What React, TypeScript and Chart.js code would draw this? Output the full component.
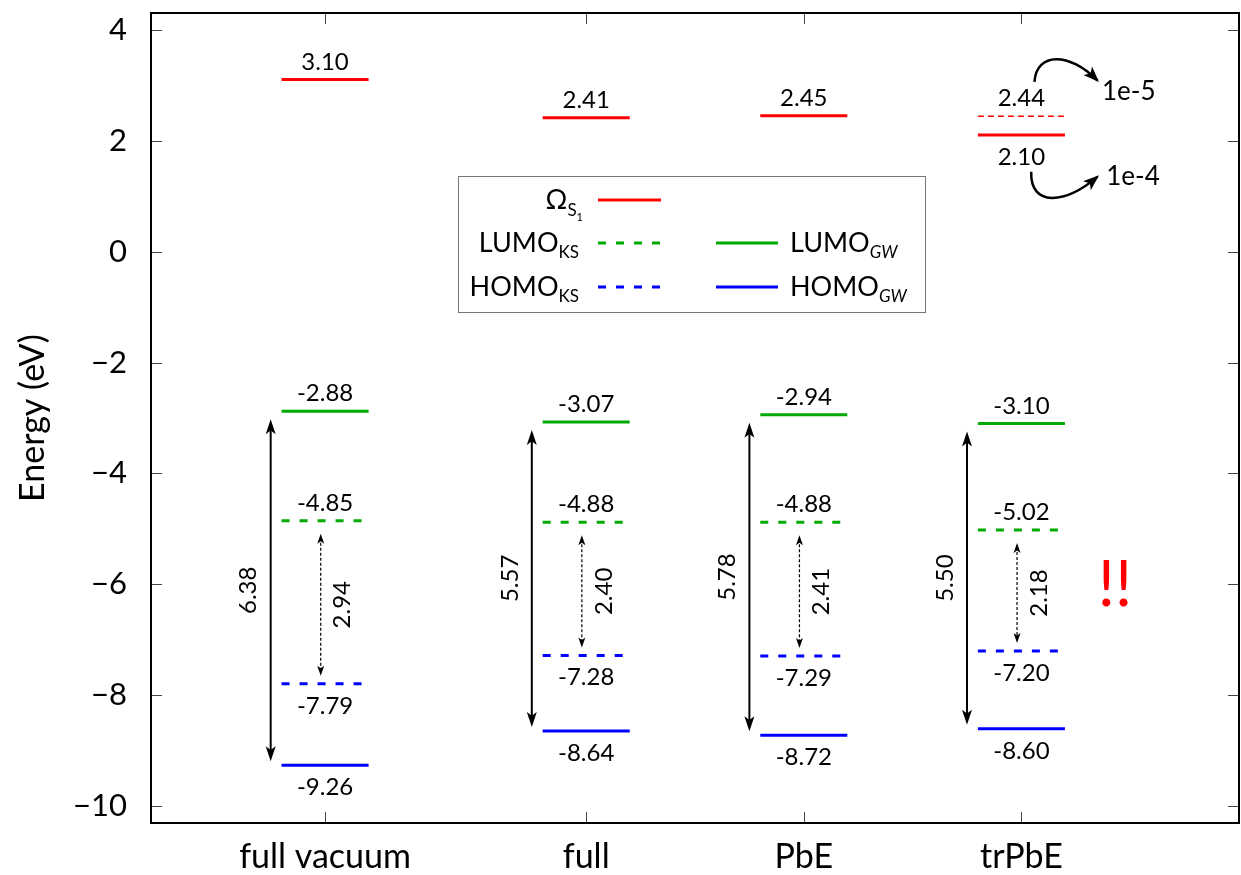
import { useEffect, useRef } from "react";
import { Chart, registerables } from "chart.js";

Chart.register(...registerables);

// ---------- data ----------
const categories = ["full vacuum", "full", "PbE", "trPbE"];
const categoryX = [0.8, 2, 3, 4];
const omegaS1 = [3.1, 2.41, 2.45, 2.1];
const omegaS1Pos = ["above", "above", "above", "below"];
const omegaS1Alt = [null, null, null, 2.44];
const lumoGW = [-2.88, -3.07, -2.94, -3.1];
const lumoKS = [-4.85, -4.88, -4.88, -5.02];
const homoKS = [-7.79, -7.28, -7.29, -7.2];
const homoGW = [-9.26, -8.64, -8.72, -8.6];
const gapGW = [6.38, 5.57, 5.78, 5.5];
const gapKS = [2.94, 2.4, 2.41, 2.18];
const yTicks = [4, 2, 0, -2, -4, -6, -8, -10];
const oscLabels = ["1e-5", "1e-4"];

// ---------- styles ----------
const RED = "#ff0000";
const GREEN = "#00aa00";
const BLUE = "#0000ff";
const FONT = "Lato, 'Open Sans', sans-serif";
const HALF = 0.2;

type Level = {
  values: (number | null)[];
  color: string;
  dash: number[];
  width: number;
  pos: string[];
};

const levels: Level[] = [
  { values: omegaS1, color: RED, dash: [], width: 3, pos: omegaS1Pos },
  { values: omegaS1Alt, color: RED, dash: [6, 4], width: 1.5, pos: ["above", "above", "above", "above"] },
  { values: lumoGW, color: GREEN, dash: [], width: 3, pos: ["above", "above", "above", "above"] },
  { values: lumoKS, color: GREEN, dash: [8, 10], width: 3, pos: ["above", "above", "above", "above"] },
  { values: homoKS, color: BLUE, dash: [8, 10], width: 3, pos: ["below", "below", "below", "below"] },
  { values: homoGW, color: BLUE, dash: [], width: 3, pos: ["below", "below", "below", "below"] },
];

function buildDatasets() {
  const ds: any[] = [];
  levels.forEach((lv) => {
    lv.values.forEach((v, i) => {
      if (v === null) return;
      ds.push({
        type: "line",
        data: [
          { x: categoryX[i] - HALF, y: v },
          { x: categoryX[i] + HALF, y: v },
        ],
        borderColor: lv.color,
        borderWidth: lv.width,
        borderDash: lv.dash,
        borderCapStyle: "butt",
        pointRadius: 0,
        fill: false,
      });
    });
  });
  return ds;
}

function arrowHead(ctx: CanvasRenderingContext2D, tx: number, ty: number, ang: number, len: number, hw: number) {
  ctx.save();
  ctx.translate(tx, ty);
  ctx.rotate(ang);
  ctx.beginPath();
  ctx.moveTo(0, 0);
  ctx.lineTo(-len, -hw);
  ctx.lineTo(-len * 0.75, 0);
  ctx.lineTo(-len, hw);
  ctx.closePath();
  ctx.fill();
  ctx.restore();
}

type Part = { t: string; size: number; dy: number; italic?: boolean };

function drawParts(ctx: CanvasRenderingContext2D, parts: Part[], x: number, y: number, align: "left" | "right") {
  let total = 0;
  const ws = parts.map((p) => {
    ctx.font = `${p.italic ? "italic " : ""}${p.size}px ${FONT}`;
    const w = ctx.measureText(p.t).width;
    total += w;
    return w;
  });
  let cx = align === "left" ? x : x - total;
  ctx.textAlign = "left";
  ctx.textBaseline = "alphabetic";
  parts.forEach((p, i) => {
    ctx.font = `${p.italic ? "italic " : ""}${p.size}px ${FONT}`;
    ctx.fillText(p.t, cx, y + p.dy);
    cx += ws[i];
  });
}

const annotate = {
  id: "annotate",
  afterDatasetsDraw(chart: any) {
    const { ctx, chartArea: ca, scales } = chart;
    const xs = scales.x;
    const ys = scales.y;
    ctx.save();
    ctx.fillStyle = "#000";
    ctx.strokeStyle = "#000";

    // value labels
    ctx.font = `24px ${FONT}`;
    ctx.textAlign = "center";
    ctx.textBaseline = "alphabetic";
    levels.forEach((lv) => {
      lv.values.forEach((v, i) => {
        if (v === null) return;
        const px = xs.getPixelForValue(categoryX[i]);
        const py = ys.getPixelForValue(v);
        const ty = lv.pos[i] === "above" ? py - 10 : py + 30;
        ctx.fillText(v.toFixed(2), px, ty);
      });
    });

    // gap arrows
    categoryX.forEach((cxv, i) => {
      // GW gap
      const ax = xs.getPixelForValue(cxv - 0.25);
      const y1 = ys.getPixelForValue(lumoGW[i]) + 8;
      const y2 = ys.getPixelForValue(homoGW[i]) - 4;
      ctx.setLineDash([]);
      ctx.lineWidth = 2;
      ctx.beginPath();
      ctx.moveTo(ax, y1 + 6);
      ctx.lineTo(ax, y2 - 6);
      ctx.stroke();
      arrowHead(ctx, ax, y1, -Math.PI / 2, 15, 5);
      arrowHead(ctx, ax, y2, Math.PI / 2, 15, 5);
      ctx.save();
      ctx.translate(ax - 22, (y1 + y2) / 2);
      ctx.rotate(-Math.PI / 2);
      ctx.font = `24px ${FONT}`;
      ctx.textAlign = "center";
      ctx.textBaseline = "middle";
      ctx.fillText(gapGW[i].toFixed(2), 0, 0);
      ctx.restore();

      // KS gap
      const bx = xs.getPixelForValue(cxv - 0.02);
      const k1 = ys.getPixelForValue(lumoKS[i]) + 13;
      const k2 = ys.getPixelForValue(homoKS[i]) - 8;
      ctx.lineWidth = 1.2;
      ctx.setLineDash([3, 2]);
      ctx.beginPath();
      ctx.moveTo(bx, k1 + 4);
      ctx.lineTo(bx, k2 - 4);
      ctx.stroke();
      ctx.setLineDash([]);
      arrowHead(ctx, bx, k1, -Math.PI / 2, 10, 3.5);
      arrowHead(ctx, bx, k2, Math.PI / 2, 10, 3.5);
      ctx.save();
      ctx.translate(bx + 22, (k1 + k2) / 2);
      ctx.rotate(-Math.PI / 2);
      ctx.font = `24px ${FONT}`;
      ctx.textAlign = "center";
      ctx.textBaseline = "middle";
      ctx.fillText(gapKS[i].toFixed(2), 0, 0);
      ctx.restore();
    });

    // curved arrows to oscillator strengths
    const P = (xv: number, yv: number) => [xs.getPixelForValue(xv), ys.getPixelForValue(yv)];
    const curves = [
      { p0: P(4.06, 3.06), c1: P(4.07, 3.6), c2: P(4.22, 3.6), p3: P(4.35, 3.08), text: oscLabels[0], tp: P(4.37, 2.88) },
      { p0: P(4.045, 1.44), c1: P(4.04, 0.8), c2: P(4.2, 0.85), p3: P(4.35, 1.35), text: oscLabels[1], tp: P(4.39, 1.35) },
    ];
    curves.forEach((c) => {
      ctx.lineWidth = 2.5;
      ctx.setLineDash([]);
      ctx.beginPath();
      ctx.moveTo(c.p0[0], c.p0[1]);
      ctx.bezierCurveTo(c.c1[0], c.c1[1], c.c2[0], c.c2[1], c.p3[0], c.p3[1]);
      ctx.stroke();
      const ang = Math.atan2(c.p3[1] - c.c2[1], c.p3[0] - c.c2[0]);
      arrowHead(ctx, c.p3[0] + Math.cos(ang) * 2, c.p3[1] + Math.sin(ang) * 2, ang, 16, 6);
      ctx.font = `26px ${FONT}`;
      ctx.textAlign = "left";
      ctx.textBaseline = "middle";
      ctx.fillText(c.text, c.tp[0], c.tp[1]);
    });

    // "!!"
    const ex = P(4.43, -6.02);
    ctx.fillStyle = RED;
    ctx.font = `64px ${FONT}`;
    ctx.textAlign = "center";
    ctx.textBaseline = "middle";
    ctx.fillText("!!", ex[0], ex[1]);

    // legend
    const lx = ca.left + 307;
    const ly = ca.top + 163;
    ctx.fillStyle = "#fff";
    ctx.fillRect(lx, ly, 467, 136);
    ctx.strokeStyle = "#777";
    ctx.lineWidth = 1;
    ctx.strokeRect(lx + 0.5, ly + 0.5, 467, 136);
    ctx.fillStyle = "#000";
    const rows = [ly + 24, ly + 67, ly + 111];
    const sample = (x1: number, x2: number, yy: number, color: string, dash: number[]) => {
      ctx.strokeStyle = color;
      ctx.lineWidth = 3;
      ctx.setLineDash(dash);
      ctx.beginPath();
      ctx.moveTo(x1, yy);
      ctx.lineTo(x2, yy);
      ctx.stroke();
      ctx.setLineDash([]);
    };
    sample(lx + 140, lx + 203, rows[0], RED, []);
    sample(lx + 140, lx + 203, rows[1], GREEN, [8, 10]);
    sample(lx + 140, lx + 203, rows[2], BLUE, [8, 10]);
    sample(lx + 258, lx + 320, rows[1], GREEN, []);
    sample(lx + 258, lx + 320, rows[2], BLUE, []);
    ctx.fillStyle = "#000";
    drawParts(ctx, [{ t: "Ω", size: 27, dy: 0 }, { t: "S", size: 17, dy: 7 }, { t: "1", size: 11, dy: 12 }], lx + 125, rows[0] + 9, "right");
    drawParts(ctx, [{ t: "LUMO", size: 27, dy: 0 }, { t: "KS", size: 17, dy: 6 }], lx + 121, rows[1] + 9, "right");
    drawParts(ctx, [{ t: "HOMO", size: 27, dy: 0 }, { t: "KS", size: 17, dy: 6 }], lx + 121, rows[2] + 9, "right");
    drawParts(ctx, [{ t: "LUMO", size: 27, dy: 0 }, { t: "GW", size: 17, dy: 6, italic: true }], lx + 332, rows[1] + 9, "left");
    drawParts(ctx, [{ t: "HOMO", size: 27, dy: 0 }, { t: "GW", size: 17, dy: 6, italic: true }], lx + 332, rows[2] + 9, "left");

    ctx.restore();
  },
  afterDraw(chart: any) {
    const { ctx, chartArea: ca, scales } = chart;
    ctx.save();
    // inward ticks
    ctx.strokeStyle = "#444";
    ctx.lineWidth = 1;
    ctx.setLineDash([]);
    ctx.beginPath();
    yTicks.forEach((t) => {
      const py = Math.round(scales.y.getPixelForValue(t)) + 0.5;
      ctx.moveTo(ca.left, py);
      ctx.lineTo(ca.left + 11, py);
      ctx.moveTo(ca.right, py);
      ctx.lineTo(ca.right - 11, py);
    });
    categoryX.forEach((v) => {
      const px = Math.round(scales.x.getPixelForValue(v)) + 0.5;
      ctx.moveTo(px, ca.bottom);
      ctx.lineTo(px, ca.bottom - 11);
      ctx.moveTo(px, ca.top);
      ctx.lineTo(px, ca.top + 11);
    });
    ctx.stroke();
    // frame
    ctx.strokeStyle = "#000";
    ctx.lineWidth = 2;
    ctx.strokeRect(ca.left, ca.top, ca.right - ca.left, ca.bottom - ca.top);
    // y title
    ctx.fillStyle = "#000";
    ctx.translate(33, (ca.top + ca.bottom) / 2);
    ctx.rotate(-Math.PI / 2);
    ctx.font = `34px ${FONT}`;
    ctx.textAlign = "center";
    ctx.textBaseline = "middle";
    ctx.fillText("Energy (eV)", 0, 0);
    ctx.restore();
  },
};

export default function App() {
  const ref = useRef<HTMLCanvasElement | null>(null);
  useEffect(() => {
    if (!ref.current) return;
    const chart = new Chart(ref.current, {
      type: "line",
      data: { datasets: buildDatasets() },
      options: {
        responsive: false,
        animation: false,
        devicePixelRatio: 1,
        layout: { padding: { top: 13, right: 2, left: 0, bottom: 0 } },
        plugins: { legend: { display: false }, tooltip: { enabled: false } },
        scales: {
          x: {
            type: "linear",
            min: 0,
            max: 5,
            grid: { display: false, drawTicks: false },
            border: { display: false },
            afterBuildTicks: (s: any) => {
              s.ticks = categoryX.map((v) => ({ value: v }));
            },
            afterFit: (s: any) => {
              s.height = 52;
              s.paddingLeft = 0;
              s.paddingRight = 0;
              s.paddingTop = 0;
              s.paddingBottom = 0;
            },
            ticks: {
              autoSkip: false,
              maxRotation: 0,
              padding: 14,
              color: "#000",
              font: { family: FONT, size: 34 },
              callback: (v: any) => {
                const i = categoryX.indexOf(Number(v));
                return i >= 0 ? categories[i] : "";
              },
            },
          },
          y: {
            type: "linear",
            min: -10.3,
            max: 4.3,
            grid: { display: false, drawTicks: false },
            border: { display: false },
            afterBuildTicks: (s: any) => {
              s.ticks = yTicks.map((v) => ({ value: v }));
            },
            afterFit: (s: any) => {
              s.width = 151;
              s.paddingTop = 0;
              s.paddingBottom = 0;
              s.paddingLeft = 0;
              s.paddingRight = 0;
            },
            ticks: {
              padding: 24,
              color: "#000",
              font: { family: FONT, size: 31 },
              callback: (v: any) => String(v).replace("-", "\u2212"),
            },
          },
        },
      },
      plugins: [annotate],
    } as any);
    return () => chart.destroy();
  }, []);
  return (
    <div style={{ position: "fixed", left: 0, top: 0, width: 1241, height: 875, background: "#fff" }}>
      <canvas ref={ref} width={1241} height={875} />
    </div>
  );
}
